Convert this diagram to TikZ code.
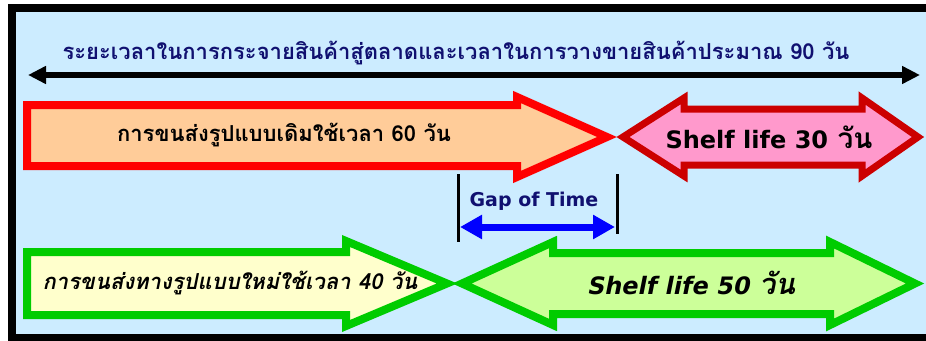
\documentclass[tikz,border=0pt]{standalone}
\usepackage{fontspec}
\newfontfamily\thai[Script=Thai]{Loma}
\newfontfamily\thaiBI[Script=Thai,BoldFeatures={FakeSlant=0.2}]{Loma}
\newfontfamily\lat{DejaVu Sans}
\newfontfamily\latBI[BoldFeatures={FakeSlant=0.2}]{DejaVu Sans}
\usetikzlibrary{arrows.meta}
\definecolor{bgblue}{HTML}{CCECFF}
\definecolor{navy}{HTML}{101070}
\definecolor{redline}{HTML}{FF0000}
\definecolor{darkred}{HTML}{CC0000}
\definecolor{peach}{HTML}{FFCC99}
\definecolor{pinkfill}{HTML}{FF99CC}
\definecolor{greenline}{HTML}{00CC00}
\definecolor{paleyellow}{HTML}{FFFFCC}
\definecolor{palegreen}{HTML}{CCFF99}
\tikzset{
  redarrow/.style={draw=redline,fill=peach,line width=8pt,line join=miter,miter limit=12},
  pinkarrow/.style={draw=darkred,fill=pinkfill,line width=7pt,line join=miter,miter limit=12},
  greenarrow/.style={draw=greenline,line width=8pt,line join=miter,miter limit=12},
  lbl/.style={inner sep=0pt,font=\thai\bfseries},
}
\begin{document}
\begin{tikzpicture}[x=1pt,y=-1pt]
\useasboundingbox (0,0) rectangle (926,340);
\clip (0,0) rectangle (926,340);
% frame
\fill[black] (8,4) rectangle (940,350);
\fill[bgblue] (16,12) rectangle (940,334);

% top span arrow
\coordinate (tl) at (28,75);
\coordinate (tr) at (920,75);
\draw[line width=5.5pt,{Triangle[length=18pt,width=17pt]}-{Triangle[length=18pt,width=17pt]}] (tl) -- (tr);
\node[lbl,text=navy,font=\thai\bfseries\fontsize{22}{26}\selectfont] (toptext) at (456,53)
  {ระยะเวลาในการกระจายสินค้าสู่ตลาดและเวลาในการวางขายสินค้าประมาณ 90 วัน};

% row 1
\draw[redarrow] (27,105) -- (517,105) -- (517,97) -- (607,137) -- (517,177) -- (517,166) -- (27,166) -- cycle;
\draw[pinkarrow] (623,137) -- (684,98) -- (684,109) -- (862,109) -- (862,98) -- (918,137)
  -- (862,176) -- (862,165) -- (684,165) -- (684,176) -- cycle;
\node[lbl,font=\thai\bfseries\fontsize{22}{26}\selectfont] (old) at (284,135)
  {การขนส่งรูปแบบเดิมใช้เวลา 60 วัน};
\node[lbl,font=\thai\bfseries\fontsize{28}{32}\selectfont] (shelf30) at (769,137)
  {{\lat\bfseries\fontsize{24}{28}\selectfont Shelf life 30} วัน};

% gap of time
\coordinate (g1t) at (458,174);
\coordinate (g1b) at (458,242);
\coordinate (g2t) at (617,174);
\coordinate (g2b) at (617,234);
\draw[line width=3pt] (g1t) -- (g1b);
\draw[line width=3pt] (g2t) -- (g2b);
\coordinate (gl) at (460,227);
\coordinate (gr) at (615,227);
\draw[blue,line width=7pt,{Triangle[length=22pt,width=23pt]}-{Triangle[length=22pt,width=23pt]}] (gl) -- (gr);
\node[lbl,text=navy,font=\lat\bfseries\fontsize{19}{22}\selectfont] (gap) at (534,201) {Gap of Time};

% row 2
\draw[greenarrow,fill=paleyellow] (27,252) -- (346,252) -- (346,241) -- (447,283.5) -- (346,326) -- (346,315) -- (27,315) -- cycle;
\draw[greenarrow,fill=palegreen] (462,283.5) -- (553,242) -- (553,253) -- (830,253) -- (830,242) -- (915,283.5)
  -- (830,325) -- (830,314) -- (553,314) -- (553,325) -- cycle;
\node[lbl,font=\thaiBI\bfseries\fontsize{22}{26}\selectfont] (new) at (230,283)
  {การขนส่งทางรูปแบบใหม่ใช้เวลา 40 วัน};
\node[lbl,font=\thaiBI\bfseries\fontsize{29}{33}\selectfont] (shelf50) at (691,283)
  {{\latBI\bfseries\fontsize{24}{28}\selectfont Shelf life 50} วัน};
\end{tikzpicture}
\end{document}
